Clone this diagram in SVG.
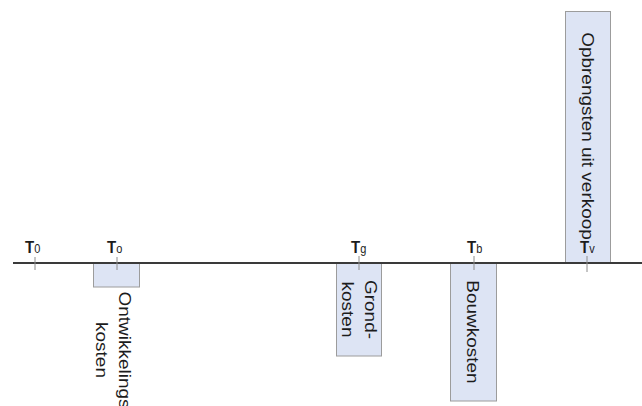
<svg xmlns="http://www.w3.org/2000/svg" width="642" height="406" viewBox="0 0 642 406">
  <style>
    .box { fill: #dde4f4; stroke: #9c9c9c; stroke-width: 1; }
    .vt { font-family: "Liberation Sans", Arial, sans-serif; font-size: 16.5px; fill: #1c1c1c; text-anchor: middle; }
    .lbl { font-family: "Liberation Sans", Arial, sans-serif; font-size: 15px; fill: #1c1c1c; font-weight: bold; }
    .sub { font-size: 11px; font-weight: normal; }
    .axis { stroke: #3a3a3a; stroke-width: 1.8; fill: none; }
    .tick { stroke: #8c8c8c; stroke-width: 1; fill: none; }
  </style>

  <!-- cost / revenue blocks -->
  <g id="node-ontwikkelingskosten">
    <rect class="box" x="93.5" y="263" width="46" height="24"/>
    <text class="vt" transform="translate(119,350) rotate(90) scale(1.15,1)">Ontwikkelings</text>
    <text class="vt" transform="translate(96,350) rotate(90) scale(1.15,1)">kosten</text>
  </g>

  <g id="node-grondkosten">
    <rect class="box" x="336.5" y="263" width="45" height="93"/>
    <text class="vt" transform="translate(365,309.5) rotate(90) scale(1.15,1)">Grond-</text>
    <text class="vt" transform="translate(342,309.5) rotate(90) scale(1.15,1)">kosten</text>
  </g>

  <g id="node-bouwkosten">
    <rect class="box" x="450.5" y="263" width="46" height="138"/>
    <text class="vt" transform="translate(467,332) rotate(90) scale(1.15,1)">Bouwkosten</text>
  </g>

  <g id="node-opbrengsten">
    <rect class="box" x="565.5" y="11.5" width="45" height="251.5"/>
    <text class="vt" transform="translate(582,136) rotate(90) scale(1.15,1)">Opbrengsten uit verkoop</text>
  </g>

  <!-- time axis with tick marks -->
  <g id="connectors">
    <line class="axis" x1="13" y1="263" x2="642" y2="263"/>
    <line class="tick" x1="35" y1="257" x2="35" y2="270"/>
    <line class="tick" x1="117" y1="257" x2="117" y2="270"/>
    <line class="tick" x1="359" y1="256" x2="359" y2="270"/>
    <line class="tick" x1="474" y1="256" x2="474" y2="270"/>
    <line class="tick" x1="587" y1="256" x2="587" y2="272"/>
  </g>

  <!-- time point labels -->
  <g id="node-t0">
    <text class="lbl" transform="translate(25,253) scale(1,1.13)">T<tspan class="sub">0</tspan></text>
  </g>
  <g id="node-to">
    <text class="lbl" transform="translate(107,253) scale(1,1.13)">T<tspan class="sub">o</tspan></text>
  </g>
  <g id="node-tg">
    <text class="lbl" transform="translate(351,253) scale(1,1.13)">T<tspan class="sub">g</tspan></text>
  </g>
  <g id="node-tb">
    <text class="lbl" transform="translate(467,253) scale(1,1.13)">T<tspan class="sub">b</tspan></text>
  </g>
  <g id="node-tv">
    <text class="lbl" transform="translate(580,253) scale(1,1.13)">T<tspan class="sub">v</tspan></text>
  </g>
</svg>
